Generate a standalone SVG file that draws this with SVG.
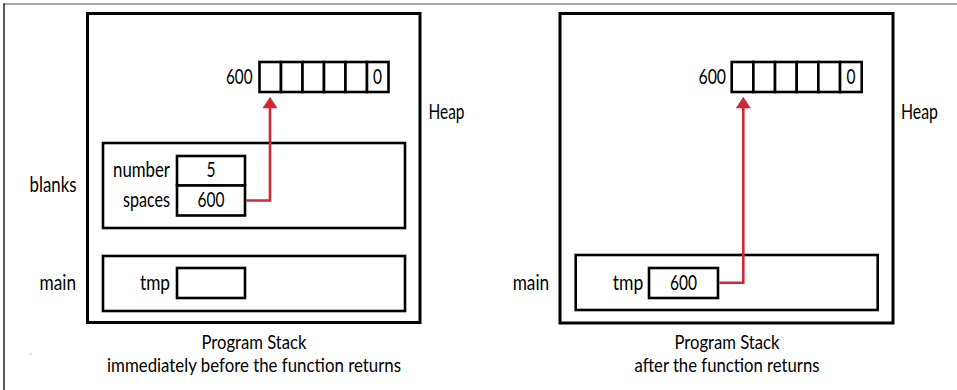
<svg xmlns="http://www.w3.org/2000/svg" width="957" height="390" viewBox="0 0 957 390">
  <defs>
    <style>
      .box { fill: #ffffff; stroke: #000000; stroke-width: 2.6; }
      .panel { fill: #ffffff; stroke: #000000; stroke-width: 3; }
      .t { font-family: Lato, "Open Sans", "Liberation Sans", sans-serif; font-size: 22px; fill: #000000; }
      .cap { font-size: 19px; }
      .r { text-anchor: end; }
      .m { text-anchor: middle; }
      .link { fill: none; stroke: #cc2a36; stroke-width: 2.6; }
    </style>
  </defs>
  <rect width="957" height="390" fill="#ffffff"/>
  <!-- page frame -->
  <line x1="3" y1="4" x2="957" y2="4" stroke="#8a8a8a" stroke-width="1.6"/>
  <line x1="4" y1="3.5" x2="4" y2="390" stroke="#333333" stroke-width="1.6"/>
  <rect x="29" y="353.5" width="3" height="1.2" fill="#cccccc"/>

  <!-- LEFT DIAGRAM -->
  <g id="left-stack">
    <rect class="panel" x="87.5" y="13.5" width="332.5" height="309"/>
  </g>
  <g id="left-heap">
    <text class="t r" x="252.5" y="83.5" textLength="26.5" lengthAdjust="spacingAndGlyphs">600</text>
    <rect class="box" x="259.5" y="62" width="21.5" height="30"/>
    <rect class="box" x="281" y="62" width="21.5" height="30"/>
    <rect class="box" x="302.5" y="62" width="21.5" height="30"/>
    <rect class="box" x="324" y="62" width="21.5" height="30"/>
    <rect class="box" x="345.5" y="62" width="21.5" height="30"/>
    <rect class="box" x="367" y="62" width="21.5" height="30"/>
    <text class="t m" x="377.5" y="83.5" textLength="9" lengthAdjust="spacingAndGlyphs">0</text>
  </g>
  <text id="left-heap-label" class="t" x="428.5" y="119" textLength="36" lengthAdjust="spacingAndGlyphs">Heap</text>
  <g id="left-blanks">
    <rect class="box" x="103" y="143" width="302" height="85"/>
    <text class="t" x="29.5" y="191.5" textLength="47" lengthAdjust="spacingAndGlyphs">blanks</text>
    <text class="t r" x="170" y="176.5" textLength="57" lengthAdjust="spacingAndGlyphs">number</text>
    <rect class="box" x="177" y="156" width="68" height="29.5"/>
    <text class="t m" x="211" y="177" textLength="9" lengthAdjust="spacingAndGlyphs">5</text>
    <text class="t r" x="170" y="206.5" textLength="47" lengthAdjust="spacingAndGlyphs">spaces</text>
    <rect class="box" x="177" y="185.5" width="68" height="30"/>
    <text class="t m" x="211" y="207" textLength="27" lengthAdjust="spacingAndGlyphs">600</text>
  </g>
  <g id="left-main">
    <rect class="box" x="103" y="256" width="302" height="55"/>
    <text class="t" x="39.5" y="289.5" textLength="36.5" lengthAdjust="spacingAndGlyphs">main</text>
    <text class="t r" x="170" y="289.5" textLength="30" lengthAdjust="spacingAndGlyphs">tmp</text>
    <rect class="box" x="177" y="268" width="68" height="30"/>
  </g>
  <g id="left-caption">
    <text class="t cap m" x="254" y="349" textLength="105" lengthAdjust="spacingAndGlyphs">Program Stack</text>
    <text class="t cap m" x="254" y="372" textLength="294" lengthAdjust="spacingAndGlyphs">immediately before the function returns</text>
  </g>

  <!-- RIGHT DIAGRAM -->
  <g id="right-stack">
    <rect class="panel" x="560" y="13.5" width="333" height="309.5"/>
  </g>
  <g id="right-heap">
    <text class="t r" x="726" y="83.5" textLength="27.5" lengthAdjust="spacingAndGlyphs">600</text>
    <rect class="box" x="731.7" y="62" width="21.67" height="30"/>
    <rect class="box" x="753.37" y="62" width="21.67" height="30"/>
    <rect class="box" x="775.04" y="62" width="21.67" height="30"/>
    <rect class="box" x="796.71" y="62" width="21.67" height="30"/>
    <rect class="box" x="818.38" y="62" width="21.67" height="30"/>
    <rect class="box" x="840.05" y="62" width="21.67" height="30"/>
    <text class="t m" x="851" y="83.5" textLength="9" lengthAdjust="spacingAndGlyphs">0</text>
  </g>
  <text id="right-heap-label" class="t" x="901" y="119" textLength="37" lengthAdjust="spacingAndGlyphs">Heap</text>
  <g id="right-main">
    <rect class="box" x="575.7" y="255" width="302" height="55"/>
    <text class="t" x="512.7" y="289.5" textLength="36.5" lengthAdjust="spacingAndGlyphs">main</text>
    <text class="t r" x="643.3" y="289.5" textLength="30.5" lengthAdjust="spacingAndGlyphs">tmp</text>
    <rect class="box" x="649" y="268" width="69" height="30"/>
    <text class="t m" x="683.5" y="290" textLength="27" lengthAdjust="spacingAndGlyphs">600</text>
  </g>
  <g id="right-caption">
    <text class="t cap m" x="727" y="349" textLength="105" lengthAdjust="spacingAndGlyphs">Program Stack</text>
    <text class="t cap m" x="727" y="372" textLength="185" lengthAdjust="spacingAndGlyphs">after the function returns</text>
  </g>

  <!-- CONNECTORS -->
  <g id="connectors">
    <polyline class="link" points="246.3,200.5 270,200.5 270,106"/>
    <polygon points="270,96.8 262.5,108.2 277.5,108.2" fill="#cc2a36"/>
    <polyline class="link" points="719.3,282.7 743.3,282.7 743.3,106"/>
    <polygon points="743.3,96.8 735.8,108.2 750.8,108.2" fill="#cc2a36"/>
  </g>
</svg>
